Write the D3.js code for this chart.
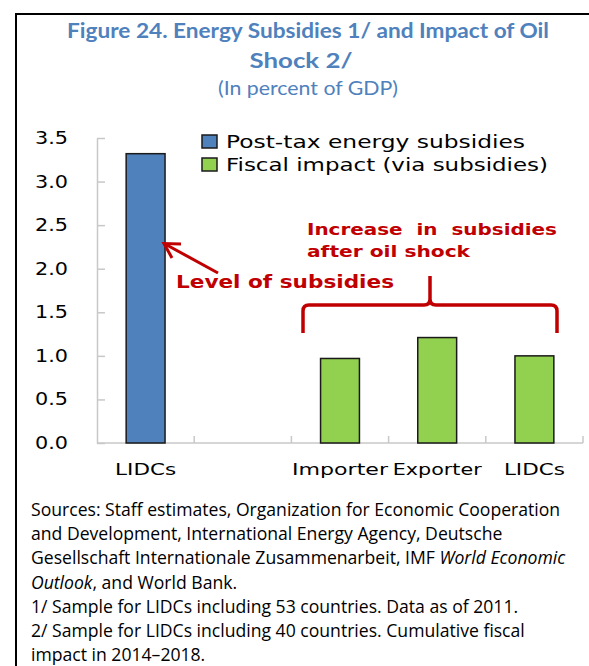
<html>
<head>
  <title>Figure 24</title>
  <script src="https://d3js.org/d3.v7.min.js"></script>
  <style>
    body { margin: 0; background: #fff; }
  </style>
</head>
<body>
<script>
  // chart values
  var categories = ["LIDCs", "", "Importer", "Exporter", "LIDCs"];
  var labelWidths = [61, 0, 96, 89, 61];
  var postTax = [3.32, null, null, null, null];
  var fiscal = [null, null, 0.97, 1.21, 1.00];
  var yTicks = [0, 0.5, 1, 1.5, 2, 2.5, 3, 3.5];
  var seriesNames = ["Post-tax energy subsidies", "Fiscal impact (via subsidies)"];
  var legendWidths = [299, 322];
  var colors = ["#4F81BD", "#92D050"];

  var width = 589, height = 666;
  var svg = d3.select("body").append("svg")
              .attr("width", width)
              .attr("height", height);

  // frame
  svg.append("path")
     .attr("d", "M16,666 L16,14 L589,14")
     .attr("fill", "none").attr("stroke", "#000").attr("stroke-width", 2);

  // title
  var titleColor = "#4F81BD";
  svg.append("text").text("Figure 24. Energy Subsidies 1/ and Impact of Oil")
     .attr("x", 308).attr("y", 38).attr("text-anchor", "middle")
     .attr("textLength", 482).attr("lengthAdjust", "spacingAndGlyphs")
     .style("font-family", "Lato").style("font-weight", "bold").style("font-size", "20px")
     .attr("fill", titleColor);
  svg.append("text").text("Shock 2/")
     .attr("x", 301).attr("y", 68).attr("text-anchor", "middle")
     .attr("textLength", 103).attr("lengthAdjust", "spacingAndGlyphs")
     .style("font-family", "Lato").style("font-weight", "bold").style("font-size", "20px")
     .attr("fill", titleColor);
  svg.append("text").text("(In percent of GDP)")
     .attr("x", 308).attr("y", 95).attr("text-anchor", "middle")
     .attr("textLength", 180).attr("lengthAdjust", "spacingAndGlyphs")
     .style("font-family", "Lato").style("font-size", "20px")
     .attr("fill", titleColor);

  // scales
  var x = d3.scaleBand().domain(d3.range(categories.length)).range([97, 583]).padding(0);
  var y = d3.scaleLinear().domain([0, 3.5]).range([443, 138]);
  var barW = x.bandwidth() * 0.4;

  var g = svg.append("g");

  // y axis
  var yAxis = g.append("g").attr("transform", "translate(97,0)")
     .call(d3.axisLeft(y).tickValues(yTicks).tickFormat(d3.format(".1f")).tickSizeInner(-8).tickSizeOuter(0).tickPadding(29));
  yAxis.select(".domain").attr("stroke", "#c8c8c8").attr("stroke-width", 1.5);
  yAxis.selectAll(".tick line").attr("stroke", "#c8c8c8").attr("stroke-width", 1.5);
  yAxis.selectAll(".tick text")
       .attr("textLength", 33).attr("lengthAdjust", "spacingAndGlyphs")
       .style("font-family", "DejaVu Sans").style("font-size", "17px").attr("fill", "#000");

  // x axis
  var xAxis = g.append("g").attr("transform", "translate(0,443)");
  xAxis.append("line").attr("x1", 97).attr("x2", 583).attr("stroke", "#c8c8c8").attr("stroke-width", 1.5);
  xAxis.selectAll(".xt").data(d3.range(1, categories.length + 1)).enter()
       .append("line")
       .attr("x1", function(d){ return x(0) + d * x.step(); })
       .attr("x2", function(d){ return x(0) + d * x.step(); })
       .attr("y1", 0).attr("y2", -7)
       .attr("stroke", "#c8c8c8").attr("stroke-width", 1.5);
  var xl = categories.map(function(c, i){ return {c: c, i: i}; })
                     .filter(function(d){ return d.c !== ""; });
  xAxis.selectAll(".xl").data(xl).enter()
       .append("text").text(function(d){ return d.c; })
       .attr("x", function(d){ return x(d.i) + x.bandwidth() / 2; })
       .attr("textLength", function(d){ return labelWidths[d.i]; })
       .attr("lengthAdjust", "spacingAndGlyphs")
       .attr("y", 32).attr("text-anchor", "middle")
       .style("font-family", "DejaVu Sans").style("font-size", "16.5px").attr("fill", "#000");

  // bars
  [postTax, fiscal].forEach(function(series, s) {
    var pts = series.map(function(v, i){ return {v: v, i: i}; })
                    .filter(function(d){ return d.v !== null; });
    g.selectAll(".bar" + s).data(pts).enter()
     .append("rect")
     .attr("x", function(d){ return x(d.i) + (x.bandwidth() - barW) / 2; })
     .attr("y", function(d){ return y(d.v); })
     .attr("width", barW)
     .attr("height", function(d){ return y(0) - y(d.v); })
     .attr("fill", colors[s])
     .attr("stroke", "#1a1a1a").attr("stroke-width", 1.5);
  });

  // legend
  var leg = g.selectAll(".leg").data(seriesNames).enter().append("g")
             .attr("transform", function(d, i){ return "translate(202," + (135 + i * 23) + ")"; });
  leg.append("rect").attr("width", 15).attr("height", 13)
     .attr("fill", function(d, i){ return colors[i]; })
     .attr("stroke", "#1a1a1a").attr("stroke-width", 1.5);
  leg.append("text").text(function(d){ return d; })
     .attr("x", 24).attr("y", 13)
     .attr("textLength", function(d, i){ return legendWidths[i]; })
     .attr("lengthAdjust", "spacingAndGlyphs")
     .style("font-family", "DejaVu Sans").style("font-size", "17.5px")
     .attr("fill", "#000");

  // annotations
  var red = "#C00000";
  var ann = g.append("g").attr("fill", red)
             .style("font-family", "DejaVu Sans").style("font-weight", "bold");
  ann.append("text").text("Increase\u00a0 in\u00a0 subsidies").attr("x", 307).attr("y", 235)
     .attr("textLength", 250).attr("lengthAdjust", "spacingAndGlyphs").style("font-size", "16px");
  ann.append("text").text("after oil shock").attr("x", 307).attr("y", 257)
     .attr("textLength", 163).attr("lengthAdjust", "spacingAndGlyphs").style("font-size", "16px");
  ann.append("text").text("Level of subsidies").attr("x", 176).attr("y", 288)
     .attr("textLength", 218).attr("lengthAdjust", "spacingAndGlyphs").style("font-size", "17.5px");

  // arrow
  g.append("path").attr("d", "M218,273 L165,244")
   .attr("stroke", red).attr("stroke-width", 3).attr("fill", "none");
  g.append("path").attr("d", "M181,244 L164,243.5 L172,258")
   .attr("stroke", red).attr("stroke-width", 3).attr("fill", "none");

  // bracket
  g.append("path")
   .attr("d", "M303,333 L303,311 Q303,305 309,305 L424,305 Q430,305 430,299 L430,276 " +
              "M430,299 Q430,305 436,305 L551,305 Q557,305 557,311 L557,333")
   .attr("stroke", red).attr("stroke-width", 3.5).attr("fill", "none");

  // notes
  var notes = [
    [{t: "Sources: Staff estimates, Organization for Economic Cooperation"}],
    [{t: "and Development, International Energy Agency, Deutsche"}],
    [{t: "Gesellschaft Internationale Zusammenarbeit, IMF "}, {t: "World Economic", i: true}],
    [{t: "Outlook", i: true}, {t: ", and World Bank."}],
    [{t: "1/ Sample for LIDCs including 53 countries. Data as of 2011."}],
    [{t: "2/ Sample for LIDCs including 40 countries. Cumulative fiscal"}],
    [{t: "impact in 2014\u20132018."}]
  ];
  var nt = svg.append("g").style("font-family", "Open Sans").style("font-size", "17.6px").attr("fill", "#000");
  notes.forEach(function(line, i) {
    var t = nt.append("text").attr("x", 31).attr("y", 516 + i * 24.2);
    line.forEach(function(p) {
      t.append("tspan").text(p.t).style("font-style", p.i ? "italic" : "normal");
    });
  });
</script>
</body>
</html>
